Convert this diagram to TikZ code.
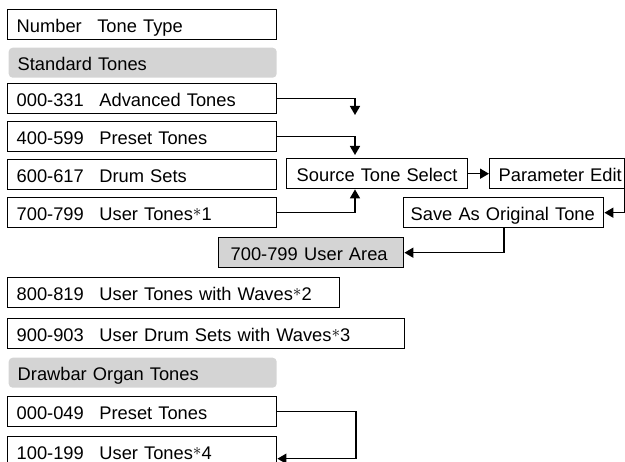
\documentclass[tikz,border=0pt]{standalone}
\usepackage{fontspec}
\setmainfont{Liberation Sans}
\usepackage{tikz}
\usetikzlibrary{arrows.meta,calc}

\definecolor{panel}{gray}{0.83}
\newcommand{\tgap}{\hspace{0.85em}}
\newcommand{\fn}[1]{\raisebox{3.5pt}{$\ast$}#1}

\begin{document}
\begin{tikzpicture}[x=1pt,y=-1pt,
  tone/.style={draw, line width=1.4pt, anchor=north west, minimum height=30pt,
    inner xsep=0pt, inner ysep=0pt, text height=15pt, text depth=0pt, align=left,
    text width=#1, font=\fontsize{18.3}{20}\selectfont},
  pad/.style={execute at begin node={\hspace*{#1}}},
  grp/.style={tone=#1, draw=none, fill=panel, rounded corners=4pt},
  area/.style={tone=#1, fill=panel},
  arr/.style={line width=1.6pt, -{Triangle[length=9pt,width=10pt]}}
]
\useasboundingbox (0,0) rectangle (625,462);

% standard tones
\node[tone=269pt, pad=9pt] (head) at (7,9) {Number\tgap Tone Type};
\node[grp=268pt, pad=9pt] (std) at (8,47) {Standard Tones};
\node[tone=269pt, pad=9pt] (t000) at (7,83) {000-331\tgap Advanced Tones};
\node[tone=269pt, pad=9pt] (t400) at (7,121) {400-599\tgap Preset Tones};
\node[tone=269pt, pad=9pt] (t600) at (7,159) {600-617\tgap Drum Sets};
\node[tone=269pt, pad=9pt] (t700) at (7,197) {700-799\tgap User Tones\fn{1}};

% editing steps
\node[tone=181pt, pad=10pt] (src) at (286,158) {Source Tone Select};
\node[tone=135pt, pad=9pt] (par) at (489,158) {Parameter Edit};
\node[tone=200pt, pad=7pt] (save) at (403,197) {Save As Original Tone};
\node[area=185pt, pad=12pt] (ua) at (218,237) {700-799\hspace{0.35em}User Area};

\node[tone=332pt, pad=9pt] (t800) at (7,277) {800-819\tgap User Tones with Waves\fn{2}};
\node[tone=397pt, pad=9pt] (t900) at (7,318) {900-903\tgap User Drum Sets with Waves\fn{3}};

% drawbar organ
\node[grp=268pt, pad=9pt] (organ) at (8,357) {Drawbar Organ Tones};
\node[tone=269pt, pad=9pt] (o000) at (7,396) {000-049\tgap Preset Tones};
\node[tone=269pt, pad=9pt] (o100) at (7,436) {100-199\tgap User Tones\fn{4}};

\coordinate (jn) at (355,0);
\coordinate (drop) at (355,115);
\coordinate (turn) at (356,0);

\draw[arr] (t000.east) -| (drop);
\draw[arr] (t400.east) -| ([yshift=3pt]jn |- src.north);
\draw[arr] (t700.east) -| (jn |- src.south);
\draw[arr] (src.east) -- (par.west);
\draw[arr] ([xshift=-1pt]par.south east) |- (save.east);
\draw[arr] (save.south) |- (ua.east);
\draw[arr] (o000.east) -| ([yshift=-7pt]turn |- o100.east) -- ([yshift=-7pt]o100.east);
\end{tikzpicture}
\end{document}
